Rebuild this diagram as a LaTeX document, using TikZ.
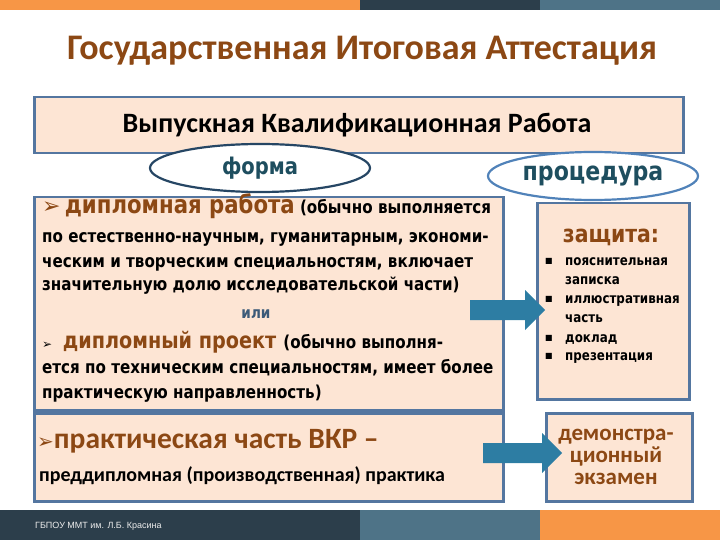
\documentclass[tikz,border=0pt]{standalone}
\usepackage{fontspec}
\setmainfont{Carlito}
\newfontfamily\tahoma[FakeStretch=0.85]{DejaVu Sans}
\newfontfamily\arrowfont{DejaVu Sans}
\newfontfamily\footfont{Liberation Sans}
\usetikzlibrary{calc,shapes.geometric}

\definecolor{brownc}{RGB}{140,72,20}
\definecolor{peach}{RGB}{253,229,212}
\definecolor{boxline}{RGB}{84,118,160}
\definecolor{arrowc}{RGB}{45,125,163}
\definecolor{tealtext}{RGB}{30,78,95}
\definecolor{formline}{RGB}{38,70,100}
\definecolor{procline}{RGB}{80,130,185}
\definecolor{orbar}{RGB}{247,150,70}
\definecolor{darkbar}{RGB}{44,62,75}
\definecolor{steelbar}{RGB}{78,115,135}
\definecolor{ilic}{RGB}{60,90,120}

\newcommand\fsz[1]{\fontsize{#1}{#1}\selectfont}
\newcommand\fatarrow[2]{%
  \fill[arrowc] ($(#1)+(0,-10)$) -- ($(#2)+(-20,-10)$) -- ($(#2)+(-20,-20)$) -- (#2)
    -- ($(#2)+(-20,20)$) -- ($(#2)+(-20,10)$) -- ($(#1)+(0,10)$) -- cycle;}

\tikzset{
  panel/.style={draw=boxline, line width=2.5pt, fill=peach, anchor=north west, inner sep=0pt},
  oval/.style={ellipse, fill=white, line width=2.2pt, inner sep=0pt, text=tealtext},
  ln/.style={anchor=base west, inner sep=0pt, font=\tahoma\bfseries\fsz{17.8}},
  item/.style={anchor=base west, inner sep=0pt, font=\tahoma\bfseries\fsz{14}},
  demo/.style={anchor=base, inner sep=0pt, text=brownc, font=\bfseries\fsz{23}},
}

\begin{document}
\begin{tikzpicture}[x=1pt, y=-1pt]
    \useasboundingbox (0,0) rectangle (720,540);

    % top and bottom bars
    \fill[orbar] (0,0) rectangle (360,10);
    \fill[darkbar] (360,0) rectangle (540,10);
    \fill[steelbar] (540,0) rectangle (720,10);
    \fill[darkbar] (0,510) rectangle (360,540);
    \fill[steelbar] (360,510) rectangle (540,540);
    \fill[orbar] (540,510) rectangle (720,540);
    \node[anchor=base west, inner sep=0pt, text=white!85!gray, font=\footfont\fsz{9}] (foot) at (35,528) {ГБПОУ ММТ им. Л.Б. Красина};

    \node[anchor=base, inner sep=0pt, text=brownc, font=\bfseries\fsz{36}] (title) at (362,60) {Государственная Итоговая Аттестация};

    \node[panel, minimum width=649pt, minimum height=56pt] (vkr) at (33,96) {};
    \node[anchor=base, inner sep=0pt, font=\bfseries\fsz{28}] (vkrtext) at (357,133) {Выпускная Квалификационная Работа};

    % left column
    \node[panel, minimum width=469pt, minimum height=213pt] (form) at (33,196) {};
    \node[panel, minimum width=469pt, minimum height=88pt] (prac) at (33,412) {};

    % right column
    \node[panel, minimum width=152pt, minimum height=196pt] (zash) at (536,202) {};
    \node[panel, minimum width=146pt, minimum height=88pt] (demo) at (545,412) {};

    \node[oval, draw=formline, minimum width=220pt, minimum height=48pt, font=\tahoma\bfseries\fsz{23}] (forma) at (260,168) {форма};
    \node[oval, draw=procline, minimum width=210pt, minimum height=48pt, font=\tahoma\bfseries\fsz{26}] (proc) at (593,176) {процедура};

    \node[ln] (l1) at (42,214) {\textcolor{brownc}{{\arrowfont\fsz{22}➢}\fsz{25}\,дипломная работа} (обычно выполняется};
    \node[ln] (l2) at (42,242) {по естественно-научным, гуманитарным, экономи-};
    \node[ln] (l3) at (42,267) {ческим и творческим специальностям, включает};
    \node[ln] (l4) at (42,290) {значительную долю исследовательской части)};
    \node[anchor=base, inner sep=0pt, text=ilic, font=\tahoma\bfseries\fsz{16}] (ili) at (256,318) {или};
    \node[ln] (l5) at (42,348) {{\arrowfont\fsz{12}➢}\ \ \textcolor{brownc}{\fsz{22.6}дипломный проект} \hspace{2pt}(обычно выполня-};
    \node[ln] (l6) at (42,373) {ется по техническим специальностям, имеет более};
    \node[ln] (l7) at (42,398) {практическую направленность)};

    \node[anchor=base west, inner sep=0pt, text=brownc, font=\bfseries\fsz{29.5}] (p1) at (37,448) {{\arrowfont\fsz{20}➢}практическая часть ВКР –};
    \node[anchor=base west, inner sep=0pt, font=\bfseries\fsz{20}] (p2) at (39,481) {преддипломная (производственная) практика};

    \node[anchor=base, inner sep=0pt, text=brownc, font=\tahoma\bfseries\fsz{24}] (zt) at (611,243) {защита:};
    \foreach \t/\yy/\b in {пояснительная/265/1, записка/284/0, иллюстративная/303/1, часть/322/0, доклад/342/1, презентация/360/1} {
        \node[item] (it\yy) at (565,\yy) {\t};
        \ifnum\b=1 \node[anchor=base west, inner sep=0pt, font=\arrowfont\fsz{8}] (bu\yy) at (545,\yy-2) {■}; \fi
    }

    \node[demo] (d1) at (616,440) {демонстра-};
    \node[demo] (d2) at (616,462) {ционный};
    \node[demo] (d3) at (616,484) {экзамен};

    % arrows
    \coordinate (a1s) at (470,310);
    \coordinate (a1e) at (545,310);
    \coordinate (a2s) at (483,453);
    \coordinate (a2e) at (562,453);
    \fatarrow{a1s}{a1e}
    \fatarrow{a2s}{a2e}
\end{tikzpicture}
\end{document}
